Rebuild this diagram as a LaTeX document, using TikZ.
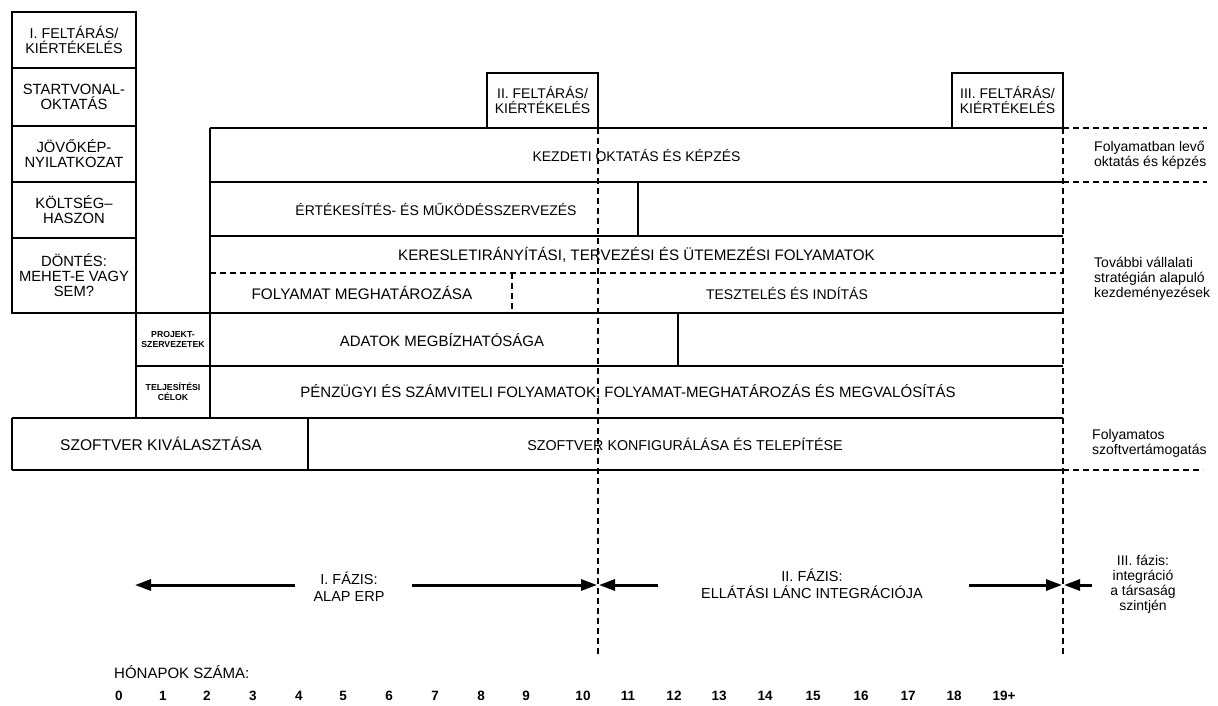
\documentclass[tikz,border=0pt]{standalone}
\usepackage{fontspec}
\setmainfont{Liberation Sans}
\usetikzlibrary{arrows.meta}
\begin{document}
\begin{tikzpicture}[x=1pt,y=-1pt,
  frame/.style={line width=1.4pt},
  dashline/.style={line width=1.4pt, dash pattern=on 6pt off 4pt},
  lbl/.style={font=\fontsize{14}{15}\selectfont, align=center, inner sep=0pt},
  lblsz/.style={lbl, font=\fontsize{#1}{15}\selectfont},
  phaselbl/.style={lbl, font=\fontsize{14.5}{17}\selectfont},
  note/.style={font=\fontsize{14}{15}\selectfont, align=left, anchor=west, inner sep=0pt},
  tinylbl/.style={font=\bfseries\fontsize{8.7}{10}\selectfont, align=center, inner sep=0pt},
  num/.style={font=\bfseries\fontsize{13.5}{14}\selectfont, inner sep=0pt},
  phase/.style={line width=3pt, -{Triangle[length=16pt,width=11pt]}}
]
\useasboundingbox (0,0) rectangle (1218,706);

% left column: assessment steps
\draw[frame] (12,12) rectangle (136,313);
\foreach \y in {68,126,182,238} \draw[frame] (12,\y) -- (136,\y);
\node[lblsz=14.3] (s1) at (74,40)  {I. FELTÁRÁS/\\KIÉRTÉKELÉS};
\node[lblsz=14.8] (s2) at (74,97)  {STARTVONAL-\\OKTATÁS};
\node[lblsz=14.8] (s3) at (74,154) {JÖVŐKÉP-\\NYILATKOZAT};
\node[lblsz=14.8] (s4) at (74,210) {KÖLTSÉG–\\HASZON};
\node[lblsz=14.8] (s5) at (74,275) {DÖNTÉS:\\MEHET-E VAGY\\SEM?};

% assessment boxes on top
\draw[frame] (487,128) -- (487,73) -- (598,73) -- (598,128);
\draw[frame] (952,128) -- (952,73) -- (1063,73) -- (1063,128);
\node[lbl] (f2) at (542.5,100) {II. FELTÁRÁS/\\KIÉRTÉKELÉS};
\node[lbl] (f3) at (1007.5,100) {III. FELTÁRÁS/\\KIÉRTÉKELÉS};

% horizontal rules of the plan
\draw[frame] (210,128) -- (1063,128);
\draw[frame] (210,182) -- (1063,182);
\draw[frame] (210,236) -- (1063,236);
\draw[dashline] (210,273) -- (1063,273);
\draw[frame] (12,313) -- (1063,313);
\draw[frame] (136,366) -- (1063,366);
\draw[frame] (12,418) -- (1063,418);
\draw[frame] (12,470) -- (1063,470);

% vertical rules
\draw[frame] (210,128) -- (210,418);
\draw[frame] (136,313) -- (136,418);
\draw[frame] (12,418) -- (12,470);
\draw[frame] (308,418) -- (308,470);
\draw[frame] (638,182) -- (638,236);
\draw[dashline] (512,273) -- (512,313);
\draw[frame] (678,313) -- (678,366);

% continuing activities
\draw[dashline] (1063,128) -- (1207,128);
\draw[dashline] (1063,182) -- (1207,182);
\draw[dashline] (1063,470) -- (1203,470);

% phase boundaries
\draw[dashline] (598,128) -- (598,655);
\draw[dashline] (1063,128) -- (1063,655);

% row labels
\node[lbl] (r1) at (636.5,155) {KEZDETI OKTATÁS ÉS KÉPZÉS};
\node[lbl] (r2) at (436,209) {ÉRTÉKESÍTÉS- ÉS MŰKÖDÉSSZERVEZÉS};
\node[lblsz=15.2] (r3) at (636.5,255) {KERESLETIRÁNYÍTÁSI, TERVEZÉSI ÉS ÜTEMEZÉSI FOLYAMATOK};
\node[lblsz=15.3] (r4a) at (362,293) {FOLYAMAT MEGHATÁROZÁSA};
\node[lbl] (r4b) at (787,293) {TESZTELÉS ÉS INDÍTÁS};
\node[lblsz=15] (r5) at (442,340) {ADATOK MEGBÍZHATÓSÁGA};
\node[lblsz=15] (r6) at (628,392) {PÉNZÜGYI ÉS SZÁMVITELI FOLYAMATOK, FOLYAMAT-MEGHATÁROZÁS ÉS MEGVALÓSÍTÁS};
\node[lblsz=15.5] (r7a) at (161,444) {SZOFTVER KIVÁLASZTÁSA};
\node[lblsz=14.3] (r7b) at (685,444) {SZOFTVER KONFIGURÁLÁSA ÉS TELEPÍTÉSE};
\node[tinylbl] (p1) at (173,340) {PROJEKT-\\SZERVEZETEK};
\node[tinylbl] (p2) at (173,392) {TELJESÍTÉSI\\CÉLOK};

% notes on the right
\node[note] (n1) at (1094,155) {Folyamatban levő\\oktatás és képzés};
\node[note] (n2) at (1094,279) {További vállalati\\stratégián alapuló\\kezdeményezések};
\node[note] (n3) at (1092,443) {Folyamatos\\szoftvertámogatás};

% phases
\node[phaselbl] (ph1) at (349,587) {I. FÁZIS:\\ALAP ERP};
\node[phaselbl] (ph2) at (812,584) {II. FÁZIS:\\ELLÁTÁSI LÁNC INTEGRÁCIÓJA};
\node[lbl] (ph3) at (1143,584) {III. fázis:\\integráció\\a társaság\\szintjén};

\coordinate (a1s) at (295,585); \coordinate (a1e) at (135,585);
\coordinate (a2s) at (412,585); \coordinate (a2e) at (597,585);
\coordinate (a3s) at (658,585); \coordinate (a3e) at (599,585);
\coordinate (a4s) at (969,585); \coordinate (a4e) at (1062,585);
\coordinate (a5s) at (1092,585); \coordinate (a5e) at (1064,585);
\draw[phase] (a1s) -- (a1e);
\draw[phase] (a2s) -- (a2e);
\draw[phase] (a3s) -- (a3e);
\draw[phase] (a4s) -- (a4e);
\draw[phase] (a5s) -- (a5e);

% month scale
\node[font=\fontsize{15}{16}\selectfont, anchor=west, inner sep=0pt] (hn) at (114,672) {HÓNAPOK SZÁMA:};
\foreach \n/\x in {0/119,1/163,2/207,3/253,4/299,5/343,6/389,7/435,8/481,9/526,10/583,11/628,12/674,13/719,14/765,15/813,16/861,17/908,18/954,19+/1004}
  \node[num] (m\n) at (\x,696) {\n};
\end{tikzpicture}
\end{document}
